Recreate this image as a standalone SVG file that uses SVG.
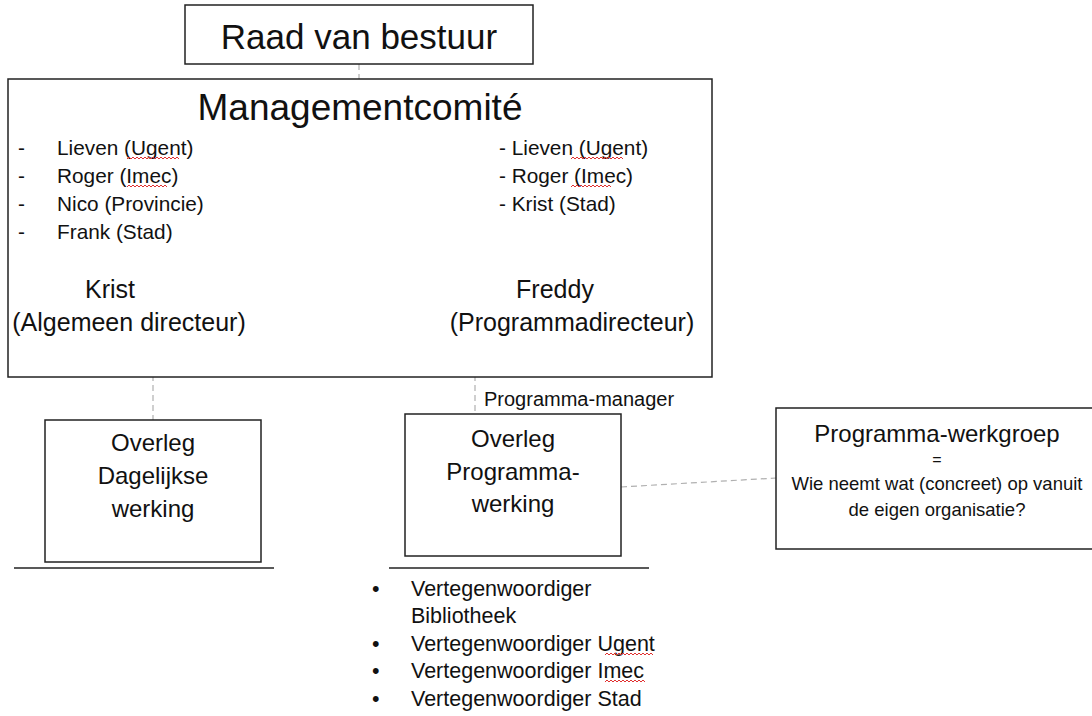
<svg xmlns="http://www.w3.org/2000/svg" width="1092" height="716" viewBox="0 0 1092 716">
<style>
.box{fill:#fff;stroke:#222;stroke-width:1.5}
.t{font-family:"Liberation Sans",Arial,sans-serif;fill:#111}
.c{text-anchor:middle}
.dash{stroke:#b0b0b0;stroke-width:1.2;stroke-dasharray:6 4;fill:none}
.rule{stroke:#222;stroke-width:1.5}
.sq{stroke:#e03030;stroke-width:1;fill:none}
</style>
<rect width="1092" height="716" fill="#fff"/>
<g id="connectors">
<line class="dash" x1="359" y1="64" x2="359" y2="79"/>
<line class="dash" x1="153" y1="345" x2="153" y2="420"/>
<line class="dash" x1="475" y1="345" x2="475" y2="414"/>
<line class="dash" x1="621" y1="487" x2="776" y2="478"/>
</g>
<g id="raad">
<rect class="box" x="185" y="5" width="348" height="59"/>
<text class="t c" x="359" y="49" font-size="35">Raad van bestuur</text>
</g>
<g id="management">
<rect class="box" x="8" y="79" width="704" height="298"/>
<text class="t c" x="360" y="120" font-size="37">Managementcomité</text>
<g font-size="20.8">
<text class="t" x="18" y="155">-</text><text class="t" x="57" y="155">Lieven (Ugent)</text>
<text class="t" x="18" y="183">-</text><text class="t" x="57" y="183">Roger (Imec)</text>
<text class="t" x="18" y="211">-</text><text class="t" x="57" y="211">Nico (Provincie)</text>
<text class="t" x="18" y="239">-</text><text class="t" x="57" y="239">Frank (Stad)</text>
<text class="t" x="499" y="155">- Lieven (Ugent)</text>
<text class="t" x="499" y="183">- Roger (Imec)</text>
<text class="t" x="499" y="211">- Krist (Stad)</text>
</g>
<path class="sq" d="M127 159 l2 -2 l2 2 l2 -2 l2 2 l2 -2 l2 2 l2 -2 l2 2 l2 -2 l2 2 l2 -2 l2 2 l2 -2 l2 2 l2 -2 l2 2 l2 -2 l2 2 l2 -2 l2 2 l2 -2 l2 2 l2 -2 l2 2 l2 -2 l2 2"/>
<path class="sq" d="M127 187 l2 -2 l2 2 l2 -2 l2 2 l2 -2 l2 2 l2 -2 l2 2 l2 -2 l2 2 l2 -2 l2 2 l2 -2 l2 2 l2 -2 l2 2 l2 -2 l2 2 l2 -2 l2 2"/>
<path class="sq" d="M571 159 l2 -2 l2 2 l2 -2 l2 2 l2 -2 l2 2 l2 -2 l2 2 l2 -2 l2 2 l2 -2 l2 2 l2 -2 l2 2 l2 -2 l2 2 l2 -2 l2 2 l2 -2 l2 2 l2 -2 l2 2 l2 -2 l2 2 l2 -2 l2 2"/>
<path class="sq" d="M571 187 l2 -2 l2 2 l2 -2 l2 2 l2 -2 l2 2 l2 -2 l2 2 l2 -2 l2 2 l2 -2 l2 2 l2 -2 l2 2 l2 -2 l2 2 l2 -2 l2 2 l2 -2 l2 2"/>
<g font-size="25">
<text class="t c" x="110" y="298">Krist</text>
<text class="t c" x="129" y="331">(Algemeen directeur)</text>
<text class="t c" x="555" y="298">Freddy</text>
<text class="t c" x="572" y="331">(Programmadirecteur)</text>
</g>
</g>
<g id="label-programma-manager">
<text class="t" x="484" y="406" font-size="20" fill="#1f2a44">Programma-manager</text>
</g>
<g id="overleg-dagelijks">
<rect class="box" x="45" y="420" width="216" height="142"/>
<g font-size="24">
<text class="t c" x="153" y="451">Overleg</text>
<text class="t c" x="153" y="484">Dagelijkse</text>
<text class="t c" x="153" y="517">werking</text>
</g>
<line class="rule" x1="14" y1="568" x2="274" y2="568"/>
</g>
<g id="overleg-programma">
<rect class="box" x="405" y="414" width="216" height="142"/>
<g font-size="24">
<text class="t c" x="513" y="447">Overleg</text>
<text class="t c" x="513" y="480">Programma-</text>
<text class="t c" x="513" y="512">werking</text>
</g>
<line class="rule" x1="389" y1="568" x2="649" y2="568"/>
<g font-size="21.5">
<text class="t" x="372" y="596">•</text><text class="t" x="411" y="596">Vertegenwoordiger</text>
<text class="t" x="411" y="623">Bibliotheek</text>
<text class="t" x="372" y="651">•</text><text class="t" x="411" y="651">Vertegenwoordiger Ugent</text>
<text class="t" x="372" y="678">•</text><text class="t" x="411" y="678">Vertegenwoordiger Imec</text>
<text class="t" x="372" y="706">•</text><text class="t" x="411" y="706">Vertegenwoordiger Stad</text>
</g>
<path class="sq" d="M605 655 l2 -2 l2 2 l2 -2 l2 2 l2 -2 l2 2 l2 -2 l2 2 l2 -2 l2 2 l2 -2 l2 2 l2 -2 l2 2 l2 -2 l2 2 l2 -2 l2 2 l2 -2 l2 2 l2 -2 l2 2 l2 -2 l2 2"/>
<path class="sq" d="M605 682 l2 -2 l2 2 l2 -2 l2 2 l2 -2 l2 2 l2 -2 l2 2 l2 -2 l2 2 l2 -2 l2 2 l2 -2 l2 2 l2 -2 l2 2 l2 -2 l2 2 l2 -2 l2 2"/>
</g>
<g id="programma-werkgroep">
<rect class="box" x="776" y="408" width="320" height="141"/>
<text class="t c" x="937" y="442" font-size="24">Programma-werkgroep</text>
<text class="t c" x="937" y="465" font-size="16">=</text>
<text class="t c" x="937" y="490" font-size="18.5">Wie neemt wat (concreet) op vanuit</text>
<text class="t c" x="937" y="516" font-size="18.5">de eigen organisatie?</text>
</g>
</svg>
